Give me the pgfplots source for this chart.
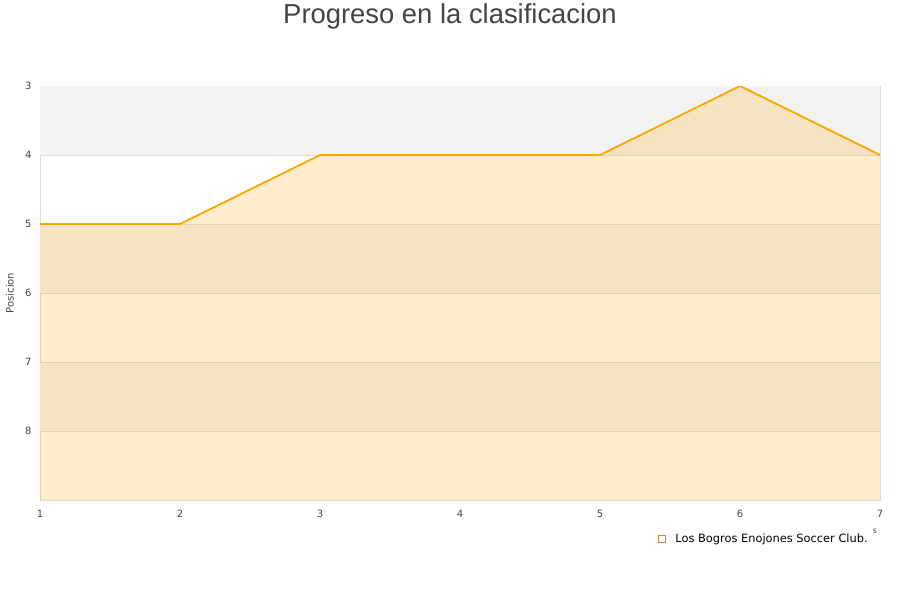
\documentclass[border=0pt]{standalone}
\usepackage{pgfplots}
\pgfplotsset{compat=1.18}
\usepackage{fontspec}
\setmainfont{DejaVu Sans}
\newfontfamily\titlefont{Liberation Sans}
\definecolor{txt}{HTML}{444444}
\definecolor{bandgray}{HTML}{F3F3F3}
\definecolor{gridc}{HTML}{DDDDDD}
\definecolor{linec}{HTML}{FFA500}
\begin{document}
\begin{tikzpicture}
\useasboundingbox (-40pt,-100pt) rectangle (860pt,500pt);
\begin{axis}[
  scale only axis,
  width=840pt, height=414pt,
  at={(0pt,0pt)}, anchor=south west,
  xmin=1, xmax=7, ymin=3, ymax=9,
  y dir=reverse,
  xtick={1,...,7}, ytick={3,...,8},
  axis line style={gridc, line width=0.8pt},
  major tick length=0pt,
  tick label style={font=\fontsize{10}{12}\selectfont, text=txt},
  /pgf/number format/assume math mode=true,
  xticklabel style={yshift=-7pt},
  yticklabel style={xshift=-5pt},
  ylabel={Posicion},
  ylabel style={font=\fontsize{10}{12}\selectfont, text=txt, at={(rel axis cs:0,0.5)}, anchor=center, yshift=30pt},
  legend style={draw=none, fill=none, at={(rel axis cs:0.988,-0.094)}, anchor=east,
    font=\fontsize{11.4}{13}\selectfont, legend cell align=left, inner sep=0pt},
  legend image code/.code={\draw[draw=linec!45!gray, fill=linec!25, line width=0.5pt] (0pt,-3.5pt) rectangle (7pt,3.5pt);
     \path (15pt,0pt);},
]
  \fill[bandgray] (axis cs:1,3) rectangle (axis cs:7,4);
  \fill[bandgray] (axis cs:1,5) rectangle (axis cs:7,6);
  \fill[bandgray] (axis cs:1,7) rectangle (axis cs:7,8);
  \draw[gridc, line width=0.8pt] (axis cs:1,4) -- (axis cs:7,4);
  \draw[gridc, line width=0.8pt] (axis cs:1,5) -- (axis cs:7,5);
  \draw[gridc, line width=0.8pt] (axis cs:1,6) -- (axis cs:7,6);
  \draw[gridc, line width=0.8pt] (axis cs:1,7) -- (axis cs:7,7);
  \draw[gridc, line width=0.8pt] (axis cs:1,8) -- (axis cs:7,8);
\addplot[draw=none, fill=linec, fill opacity=0.2] coordinates {
  (1,5) (2,5) (3,4) (4,4) (5,4) (6,3) (7,4) (7,9) (1,9)} -- cycle;
\addlegendentry{Los Bogros Enojones Soccer Club.}
\addplot[linec, line width=1.8pt, forget plot] coordinates {
  (1,5) (2,5) (3,4) (4,4) (5,4) (6,3) (7,4)};
\end{axis}
\node[font=\titlefont\fontsize{27.4}{32}\selectfont, text=txt] at (410pt,484pt) {Progreso en la clasificacion};
\node[font=\fontsize{8}{9}\selectfont, text=txt] at (835pt,-31pt) {s};
\end{tikzpicture}
\end{document}
